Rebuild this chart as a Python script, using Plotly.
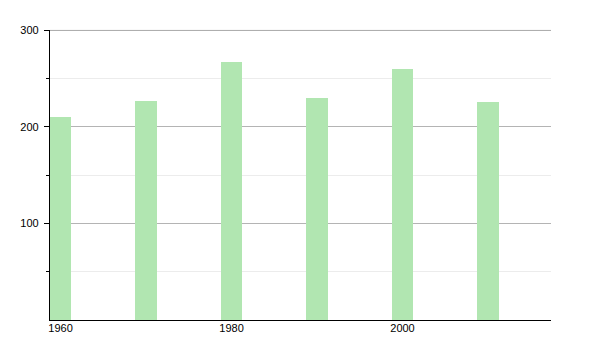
import plotly.graph_objects as go

years = [1960, 1970, 1980, 1990, 2000, 2010]
values = [210, 227, 267, 230, 260, 226]
x_tick_vals = [1960, 1980, 2000]
x_tick_text = ["1960", "1980", "2000"]
y_tick_vals = [100, 200, 300]
y_tick_text = ["100", "200", "300"]

fig = go.Figure()
fig.add_trace(go.Bar(
    x=years, y=values, width=2.46,
    marker=dict(color="#b1e6b1", line=dict(width=0)),
    hoverinfo="x+y",
))

fig.update_layout(
    width=600, height=350,
    margin=dict(l=50, r=49, t=30, b=30),
    paper_bgcolor="white", plot_bgcolor="white",
    showlegend=False,
    font=dict(family="Liberation Sans, Arial, sans-serif", size=11, color="black"),
    bargap=0,
    shapes=[dict(type="line", xref="paper", yref="paper", x0=0, x1=1, y0=0.9985, y1=0.9985,
                 line=dict(color="#a8a8a8", width=1), layer="below")],
)
fig.update_xaxes(
    range=[1958.77, 2017.37],
    tickvals=x_tick_vals, ticktext=x_tick_text,
    showgrid=False, zeroline=False,
    showline=True, linecolor="black", linewidth=1.2,
    ticks="", ticklabelstandoff=-2,
)
fig.update_yaxes(
    range=[0, 300],
    tickvals=y_tick_vals, ticktext=y_tick_text,
    showgrid=True, gridcolor="#b4b4b4", gridwidth=1,
    zeroline=False,
    showline=True, linecolor="black", linewidth=1.2,
    ticks="outside", ticklen=5, tickcolor="black", tickwidth=1,
    ticklabelstandoff=3,
    minor=dict(tickvals=[50, 150, 250], showgrid=True, gridcolor="#ececec",
               gridwidth=1, ticks="outside", ticklen=3, tickcolor="black"),
)

fig.write_html("out.html")
